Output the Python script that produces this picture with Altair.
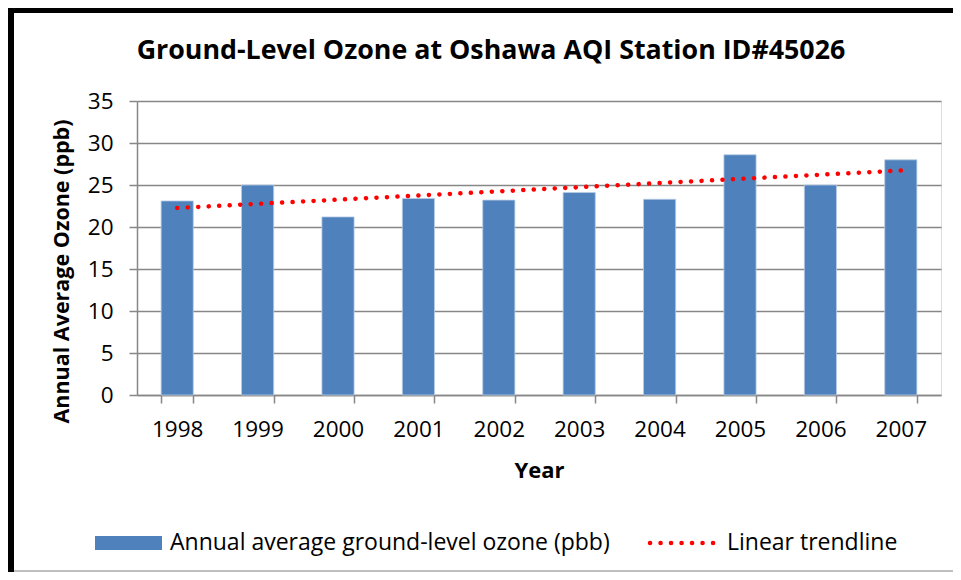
import altair as alt
import pandas as pd

years = [1998, 1999, 2000, 2001, 2002, 2003, 2004, 2005, 2006, 2007]
ozone = [23.1, 25.0, 21.2, 23.4, 23.2, 24.1, 23.3, 28.6, 25.0, 28.0]
y_ticks = [0, 5, 10, 15, 20, 25, 30, 35]

title_text = "Ground-Level Ozone at Oshawa AQI Station ID#45026"
y_title = "Annual Average Ozone (ppb)"
x_title = "Year"
bar_label = "Annual average ground-level ozone (pbb)"
trend_label = "Linear trendline"

BAR = "#4F81BD"
RED = "#FF0000"
GRID = "#878787"
FONT = "Open Sans"

df = pd.DataFrame({"year": years, "ozone": ozone})
one = pd.DataFrame({"k": [0]})

W, H = 804, 294

xenc = alt.X(
    "year:O",
    scale=alt.Scale(paddingInner=0.6, paddingOuter=0.3),
    axis=alt.Axis(
        title=x_title, labelAngle=0, tickBand="extent", tickSize=8,
        tickColor=GRID, tickWidth=1.5, domainColor=GRID, domainWidth=1.5,
        labelFontSize=22.5, labelColor="#000000", labelPadding=15, labelFont=FONT,
        titleFont=FONT, titleFontSize=22, titleFontWeight="bold", titleColor="#000000",
        titleY=75, titleBaseline="middle", grid=False,
    ),
)
yenc = alt.Y(
    "ozone:Q",
    scale=alt.Scale(domain=[0, 35], nice=False),
    axis=alt.Axis(
        title=y_title, values=y_ticks, tickSize=8, tickColor=GRID, tickWidth=1.5,
        domainColor=GRID, domainWidth=1.5, grid=True, gridColor=GRID, gridWidth=1.5,
        labelFontSize=22.5, labelColor="#000000", labelPadding=16, labelFont=FONT,
        titleFont=FONT, titleFontSize=21.5, titleFontWeight="bold", titleColor="#000000",
        titleAngle=270, titleX=-75, titleY=170, titleAlign="center", titleBaseline="middle",
    ),
)

bars = alt.Chart(df).mark_bar(color=BAR, stroke="#B9CDE5", strokeWidth=0.8).encode(x=xenc, y=yenc)

trend = (
    alt.Chart(df)
    .transform_regression("year", "ozone", method="linear")
    .mark_line(color=RED, strokeWidth=4.5, strokeDash=[0.1, 10.4], strokeCap="round")
    .encode(x="year:O", y="ozone:Q")
)

# chart title
title = alt.Chart(one).mark_text(align="center", baseline="middle", fontSize=26.8, fontWeight="bold",
                                 font=FONT, color="#000000").encode(
    x=alt.value(W / 2 - 48), y=alt.value(-50), text=alt.value(title_text))

# frame
left_border = alt.Chart(one).mark_rect(color="#000000").encode(
    x=alt.value(-129), x2=alt.value(-123), y=alt.value(-93), y2=alt.value(471))
top_border = alt.Chart(one).mark_rect(color="#000000").encode(
    x=alt.value(-129), x2=alt.value(816), y=alt.value(-93), y2=alt.value(-88))
bottom_border = alt.Chart(one).mark_rect(color="#BFBFBF").encode(
    x=alt.value(-123), x2=alt.value(816), y=alt.value(469), y2=alt.value(471))

# legend
swatch = alt.Chart(one).mark_rect(color=BAR).encode(
    x=alt.value(-42), x2=alt.value(25), y=alt.value(435), y2=alt.value(449))
lab1 = alt.Chart(one).mark_text(align="left", baseline="middle", fontSize=23, font=FONT, color="#000000").encode(
    x=alt.value(33), y=alt.value(442), text=alt.value(bar_label))
dots = alt.Chart(one).mark_rule(color=RED, strokeWidth=4.5, strokeDash=[0.1, 10.4], strokeCap="round").encode(
    x=alt.value(513), x2=alt.value(582), y=alt.value(442))
lab2 = alt.Chart(one).mark_text(align="left", baseline="middle", fontSize=23, font=FONT, color="#000000").encode(
    x=alt.value(590), y=alt.value(442), text=alt.value(trend_label))

chart = (
    alt.layer(bars, trend, title, left_border, top_border, bottom_border, swatch, lab1, dots, lab2)
    .properties(
        width=W, height=H,
        autosize=alt.AutoSizeParams(type="none"),
        padding={"left": 129, "top": 93, "right": 12, "bottom": 177},
    )
    .configure_view(stroke=None)
    .configure(background="#FFFFFF")
)

chart.save("out.html", embed_options={"renderer": "svg", "actions": False})
